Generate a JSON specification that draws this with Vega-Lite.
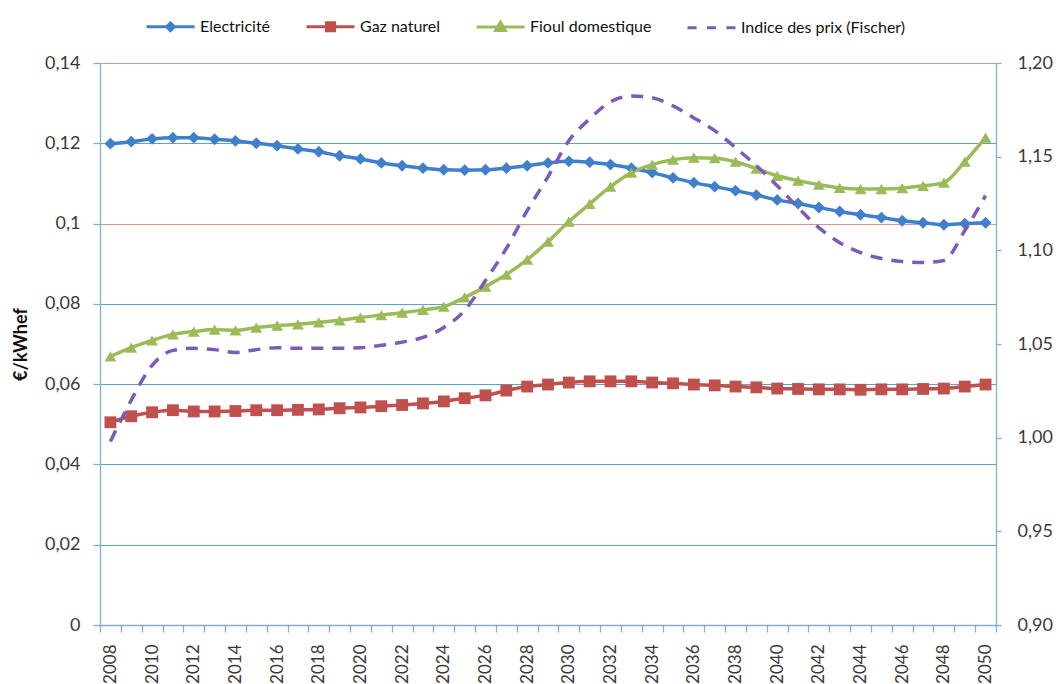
{
  "$schema": "https://vega.github.io/schema/vega-lite/v6.json",
  "width": 896,
  "height": 562,
  "autosize": {"type": "none"},
  "padding": {"left": 100, "top": 63, "right": 60, "bottom": 59},
  "background": "white",
  "config": {
    "view": {"stroke": null},
    "font": "Lato",
    "axis": {
      "labelFont": "Lato",
      "labelFontSize": 18,
      "labelColor": "#3a3a3a",
      "domainColor": "#7FB0D2",
      "tickColor": "#7FB0D2",
      "domainWidth": 1.3,
      "tickWidth": 1.3
    }
  },
  "data": {
    "values": [
      {"year": 2008, "series": "Electricité", "value": 0.1199},
      {"year": 2009, "series": "Electricité", "value": 0.1204},
      {"year": 2010, "series": "Electricité", "value": 0.1211},
      {"year": 2011, "series": "Electricité", "value": 0.1214},
      {"year": 2012, "series": "Electricité", "value": 0.1214},
      {"year": 2013, "series": "Electricité", "value": 0.1210},
      {"year": 2014, "series": "Electricité", "value": 0.1206},
      {"year": 2015, "series": "Electricité", "value": 0.1200},
      {"year": 2016, "series": "Electricité", "value": 0.1194},
      {"year": 2017, "series": "Electricité", "value": 0.1186},
      {"year": 2018, "series": "Electricité", "value": 0.1179},
      {"year": 2019, "series": "Electricité", "value": 0.1169},
      {"year": 2020, "series": "Electricité", "value": 0.1161},
      {"year": 2021, "series": "Electricité", "value": 0.1151},
      {"year": 2022, "series": "Electricité", "value": 0.1144},
      {"year": 2023, "series": "Electricité", "value": 0.1138},
      {"year": 2024, "series": "Electricité", "value": 0.1134},
      {"year": 2025, "series": "Electricité", "value": 0.1133},
      {"year": 2026, "series": "Electricité", "value": 0.1134},
      {"year": 2027, "series": "Electricité", "value": 0.1138},
      {"year": 2028, "series": "Electricité", "value": 0.1144},
      {"year": 2029, "series": "Electricité", "value": 0.1151},
      {"year": 2030, "series": "Electricité", "value": 0.1155},
      {"year": 2031, "series": "Electricité", "value": 0.1153},
      {"year": 2032, "series": "Electricité", "value": 0.1147},
      {"year": 2033, "series": "Electricité", "value": 0.1138},
      {"year": 2034, "series": "Electricité", "value": 0.1127},
      {"year": 2035, "series": "Electricité", "value": 0.1114},
      {"year": 2036, "series": "Electricité", "value": 0.1102},
      {"year": 2037, "series": "Electricité", "value": 0.1092},
      {"year": 2038, "series": "Electricité", "value": 0.1082},
      {"year": 2039, "series": "Electricité", "value": 0.1071},
      {"year": 2040, "series": "Electricité", "value": 0.1059},
      {"year": 2041, "series": "Electricité", "value": 0.1050},
      {"year": 2042, "series": "Electricité", "value": 0.1040},
      {"year": 2043, "series": "Electricité", "value": 0.1030},
      {"year": 2044, "series": "Electricité", "value": 0.1022},
      {"year": 2045, "series": "Electricité", "value": 0.1015},
      {"year": 2046, "series": "Electricité", "value": 0.1007},
      {"year": 2047, "series": "Electricité", "value": 0.1002},
      {"year": 2048, "series": "Electricité", "value": 0.0997},
      {"year": 2049, "series": "Electricité", "value": 0.1000},
      {"year": 2050, "series": "Electricité", "value": 0.1002},
      {"year": 2008, "series": "Gaz naturel", "value": 0.0505},
      {"year": 2009, "series": "Gaz naturel", "value": 0.0520},
      {"year": 2010, "series": "Gaz naturel", "value": 0.0530},
      {"year": 2011, "series": "Gaz naturel", "value": 0.0535},
      {"year": 2012, "series": "Gaz naturel", "value": 0.0532},
      {"year": 2013, "series": "Gaz naturel", "value": 0.0532},
      {"year": 2014, "series": "Gaz naturel", "value": 0.0533},
      {"year": 2015, "series": "Gaz naturel", "value": 0.0535},
      {"year": 2016, "series": "Gaz naturel", "value": 0.0535},
      {"year": 2017, "series": "Gaz naturel", "value": 0.0536},
      {"year": 2018, "series": "Gaz naturel", "value": 0.0537},
      {"year": 2019, "series": "Gaz naturel", "value": 0.0540},
      {"year": 2020, "series": "Gaz naturel", "value": 0.0542},
      {"year": 2021, "series": "Gaz naturel", "value": 0.0545},
      {"year": 2022, "series": "Gaz naturel", "value": 0.0548},
      {"year": 2023, "series": "Gaz naturel", "value": 0.0552},
      {"year": 2024, "series": "Gaz naturel", "value": 0.0557},
      {"year": 2025, "series": "Gaz naturel", "value": 0.0565},
      {"year": 2026, "series": "Gaz naturel", "value": 0.0572},
      {"year": 2027, "series": "Gaz naturel", "value": 0.0584},
      {"year": 2028, "series": "Gaz naturel", "value": 0.0594},
      {"year": 2029, "series": "Gaz naturel", "value": 0.0599},
      {"year": 2030, "series": "Gaz naturel", "value": 0.0604},
      {"year": 2031, "series": "Gaz naturel", "value": 0.0607},
      {"year": 2032, "series": "Gaz naturel", "value": 0.0607},
      {"year": 2033, "series": "Gaz naturel", "value": 0.0607},
      {"year": 2034, "series": "Gaz naturel", "value": 0.0604},
      {"year": 2035, "series": "Gaz naturel", "value": 0.0602},
      {"year": 2036, "series": "Gaz naturel", "value": 0.0599},
      {"year": 2037, "series": "Gaz naturel", "value": 0.0597},
      {"year": 2038, "series": "Gaz naturel", "value": 0.0594},
      {"year": 2039, "series": "Gaz naturel", "value": 0.0592},
      {"year": 2040, "series": "Gaz naturel", "value": 0.0589},
      {"year": 2041, "series": "Gaz naturel", "value": 0.0588},
      {"year": 2042, "series": "Gaz naturel", "value": 0.0587},
      {"year": 2043, "series": "Gaz naturel", "value": 0.0587},
      {"year": 2044, "series": "Gaz naturel", "value": 0.0586},
      {"year": 2045, "series": "Gaz naturel", "value": 0.0587},
      {"year": 2046, "series": "Gaz naturel", "value": 0.0587},
      {"year": 2047, "series": "Gaz naturel", "value": 0.0588},
      {"year": 2048, "series": "Gaz naturel", "value": 0.0589},
      {"year": 2049, "series": "Gaz naturel", "value": 0.0594},
      {"year": 2050, "series": "Gaz naturel", "value": 0.0599},
      {"year": 2008, "series": "Fioul domestique", "value": 0.0669},
      {"year": 2009, "series": "Fioul domestique", "value": 0.0691},
      {"year": 2010, "series": "Fioul domestique", "value": 0.0709},
      {"year": 2011, "series": "Fioul domestique", "value": 0.0724},
      {"year": 2012, "series": "Fioul domestique", "value": 0.0731},
      {"year": 2013, "series": "Fioul domestique", "value": 0.0736},
      {"year": 2014, "series": "Fioul domestique", "value": 0.0734},
      {"year": 2015, "series": "Fioul domestique", "value": 0.0741},
      {"year": 2016, "series": "Fioul domestique", "value": 0.0746},
      {"year": 2017, "series": "Fioul domestique", "value": 0.0749},
      {"year": 2018, "series": "Fioul domestique", "value": 0.0754},
      {"year": 2019, "series": "Fioul domestique", "value": 0.0759},
      {"year": 2020, "series": "Fioul domestique", "value": 0.0766},
      {"year": 2021, "series": "Fioul domestique", "value": 0.0772},
      {"year": 2022, "series": "Fioul domestique", "value": 0.0778},
      {"year": 2023, "series": "Fioul domestique", "value": 0.0785},
      {"year": 2024, "series": "Fioul domestique", "value": 0.0793},
      {"year": 2025, "series": "Fioul domestique", "value": 0.0816},
      {"year": 2026, "series": "Fioul domestique", "value": 0.0843},
      {"year": 2027, "series": "Fioul domestique", "value": 0.0873},
      {"year": 2028, "series": "Fioul domestique", "value": 0.0910},
      {"year": 2029, "series": "Fioul domestique", "value": 0.0955},
      {"year": 2030, "series": "Fioul domestique", "value": 0.1005},
      {"year": 2031, "series": "Fioul domestique", "value": 0.1049},
      {"year": 2032, "series": "Fioul domestique", "value": 0.1092},
      {"year": 2033, "series": "Fioul domestique", "value": 0.1127},
      {"year": 2034, "series": "Fioul domestique", "value": 0.1147},
      {"year": 2035, "series": "Fioul domestique", "value": 0.1159},
      {"year": 2036, "series": "Fioul domestique", "value": 0.1164},
      {"year": 2037, "series": "Fioul domestique", "value": 0.1163},
      {"year": 2038, "series": "Fioul domestique", "value": 0.1154},
      {"year": 2039, "series": "Fioul domestique", "value": 0.1137},
      {"year": 2040, "series": "Fioul domestique", "value": 0.1119},
      {"year": 2041, "series": "Fioul domestique", "value": 0.1107},
      {"year": 2042, "series": "Fioul domestique", "value": 0.1097},
      {"year": 2043, "series": "Fioul domestique", "value": 0.1089},
      {"year": 2044, "series": "Fioul domestique", "value": 0.1086},
      {"year": 2045, "series": "Fioul domestique", "value": 0.1086},
      {"year": 2046, "series": "Fioul domestique", "value": 0.1088},
      {"year": 2047, "series": "Fioul domestique", "value": 0.1094},
      {"year": 2048, "series": "Fioul domestique", "value": 0.1102},
      {"year": 2049, "series": "Fioul domestique", "value": 0.1154},
      {"year": 2050, "series": "Fioul domestique", "value": 0.1214},
      {"year": 2008, "series": "Indice des prix (Fischer)", "value": 0.998},
      {"year": 2009, "series": "Indice des prix (Fischer)", "value": 1.020},
      {"year": 2010, "series": "Indice des prix (Fischer)", "value": 1.0386},
      {"year": 2011, "series": "Indice des prix (Fischer)", "value": 1.0466},
      {"year": 2012, "series": "Indice des prix (Fischer)", "value": 1.0477},
      {"year": 2013, "series": "Indice des prix (Fischer)", "value": 1.0470},
      {"year": 2014, "series": "Indice des prix (Fischer)", "value": 1.0455},
      {"year": 2015, "series": "Indice des prix (Fischer)", "value": 1.0470},
      {"year": 2016, "series": "Indice des prix (Fischer)", "value": 1.0480},
      {"year": 2017, "series": "Indice des prix (Fischer)", "value": 1.0477},
      {"year": 2018, "series": "Indice des prix (Fischer)", "value": 1.0477},
      {"year": 2019, "series": "Indice des prix (Fischer)", "value": 1.0477},
      {"year": 2020, "series": "Indice des prix (Fischer)", "value": 1.0480},
      {"year": 2021, "series": "Indice des prix (Fischer)", "value": 1.0493},
      {"year": 2022, "series": "Indice des prix (Fischer)", "value": 1.0510},
      {"year": 2023, "series": "Indice des prix (Fischer)", "value": 1.0535},
      {"year": 2024, "series": "Indice des prix (Fischer)", "value": 1.0588},
      {"year": 2025, "series": "Indice des prix (Fischer)", "value": 1.0679},
      {"year": 2026, "series": "Indice des prix (Fischer)", "value": 1.0839},
      {"year": 2027, "series": "Indice des prix (Fischer)", "value": 1.1010},
      {"year": 2028, "series": "Indice des prix (Fischer)", "value": 1.1212},
      {"year": 2029, "series": "Indice des prix (Fischer)", "value": 1.1393},
      {"year": 2030, "series": "Indice des prix (Fischer)", "value": 1.1585},
      {"year": 2031, "series": "Indice des prix (Fischer)", "value": 1.1702},
      {"year": 2032, "series": "Indice des prix (Fischer)", "value": 1.1793},
      {"year": 2033, "series": "Indice des prix (Fischer)", "value": 1.1824},
      {"year": 2034, "series": "Indice des prix (Fischer)", "value": 1.1814},
      {"year": 2035, "series": "Indice des prix (Fischer)", "value": 1.1771},
      {"year": 2036, "series": "Indice des prix (Fischer)", "value": 1.1707},
      {"year": 2037, "series": "Indice des prix (Fischer)", "value": 1.1639},
      {"year": 2038, "series": "Indice des prix (Fischer)", "value": 1.1548},
      {"year": 2039, "series": "Indice des prix (Fischer)", "value": 1.1452},
      {"year": 2040, "series": "Indice des prix (Fischer)", "value": 1.1345},
      {"year": 2041, "series": "Indice des prix (Fischer)", "value": 1.1228},
      {"year": 2042, "series": "Indice des prix (Fischer)", "value": 1.1121},
      {"year": 2043, "series": "Indice des prix (Fischer)", "value": 1.1041},
      {"year": 2044, "series": "Indice des prix (Fischer)", "value": 1.0988},
      {"year": 2045, "series": "Indice des prix (Fischer)", "value": 1.0956},
      {"year": 2046, "series": "Indice des prix (Fischer)", "value": 1.0940},
      {"year": 2047, "series": "Indice des prix (Fischer)", "value": 1.0935},
      {"year": 2048, "series": "Indice des prix (Fischer)", "value": 1.0946},
      {"year": 2049, "series": "Indice des prix (Fischer)", "value": 1.1105},
      {"year": 2050, "series": "Indice des prix (Fischer)", "value": 1.1292}
    ]
  },
  "encoding": {
    "x": {
      "field": "year",
      "type": "quantitative",
      "scale": {"domain": [2007.5, 2050.5], "nice": false, "zero": false},
      "axis": {
        "title": null,
        "grid": false,
        "values": [2007.5, 2008.5, 2009.5, 2010.5, 2011.5, 2012.5, 2013.5, 2014.5, 2015.5, 2016.5, 2017.5, 2018.5, 2019.5, 2020.5, 2021.5, 2022.5, 2023.5, 2024.5, 2025.5, 2026.5, 2027.5, 2028.5, 2029.5, 2030.5, 2031.5, 2032.5, 2033.5, 2034.5, 2035.5, 2036.5, 2037.5, 2038.5, 2039.5, 2040.5, 2041.5, 2042.5, 2043.5, 2044.5, 2045.5, 2046.5, 2047.5, 2048.5, 2049.5, 2050.5],
        "labelExpr": "((datum.value + 0.5) % 2 === 0 && datum.value < 2050) ? format(datum.value + 0.5, 'd') : ''",
        "labelOffset": 10.42,
        "labelAngle": 270,
        "labelAlign": "right",
        "labelBaseline": "middle",
        "labelFontSize": 17,
        "tickSize": 7,
        "labelPadding": 12,
        "labelOverlap": false,
        "labelBound": false,
        "labelFlush": false
      }
    },
    "color": {
      "field": "series",
      "type": "nominal",
      "scale": {
        "domain": ["Electricité", "Gaz naturel", "Fioul domestique", "Indice des prix (Fischer)"],
        "range": ["#3F7FCB", "#C0504D", "#9BBB59", "#7A5BB5"]
      },
      "legend": {
        "orient": "none",
        "legendX": 45,
        "legendY": -62,
        "direction": "horizontal",
        "title": null,
        "padding": 0,
        "labelFont": "Lato",
        "labelFontSize": 16,
        "labelColor": "#111111",
        "labelOffset": 4,
        "labelLimit": 400,
        "columnPadding": 29,
        "symbolSize": 2304,
        "symbolStrokeWidth": 3,
        "encode": {
          "symbols": {
            "update": {
              "shape": {"signal": "datum.value === 'Electricité' ? 'M-1,0L1,0M0,-0.16L0.16,0L0,0.16L-0.16,0Z' : datum.value === 'Gaz naturel' ? 'M-1,0L1,0M-0.17,-0.17L0.17,-0.17L0.17,0.17L-0.17,0.17Z' : datum.value === 'Fioul domestique' ? 'M-1,0L1,0M0,-0.2L0.2,0.14L-0.2,0.14Z' : 'M-1,0L-0.62,0M-0.19,0L0.19,0M0.62,0L1,0'"},
              "fill": {"scale": "color", "field": "value"},
              "stroke": {"scale": "color", "field": "value"},
              "strokeWidth": {"value": 3},
              "size": {"value": 2304},
              "opacity": {"value": 1}
            }
          }
        }
      }
    }
  },
  "layer": [
    {
      "transform": [{"filter": "datum.series !== 'Indice des prix (Fischer)'"}],
      "encoding": {
        "y": {
          "field": "value",
          "type": "quantitative",
          "scale": {"domain": [0, 0.14], "nice": false, "zero": true},
          "axis": {
            "orient": "left",
            "values": [0, 0.02, 0.04, 0.06, 0.08, 0.1, 0.12, 0.14],
            "labelExpr": "replace(format(datum.value, '.2~f'), '.', ',')",
            "tickSize": 7,
            "labelPadding": 13,
            "grid": true,
            "gridColor": {"condition": {"test": "abs(datum.value - 0.14) < 0.001 || abs(datum.value - 0.1) < 0.001", "value": "#D4998F"}, "value": "#5DA3C9"},
            "gridWidth": 1.2,
            "title": "€/kWhef",
            "titleFont": "Lato",
            "titleFontSize": 18,
            "titleFontWeight": "bold",
            "titleColor": "#111111",
            "titleAngle": 270,
            "titleX": -79,
            "titleY": 281,
            "titleAlign": "center",
            "titleBaseline": "middle"
          }
        }
      },
      "layer": [
        {"mark": {"type": "line", "strokeWidth": 3.5, "interpolate": "monotone"}},
        {
          "mark": {"type": "point", "filled": true, "opacity": 1, "size": 140},
          "encoding": {
            "shape": {
              "field": "series",
              "type": "nominal",
              "scale": {"domain": ["Electricité", "Gaz naturel", "Fioul domestique"], "range": ["diamond", "square", "triangle-up"]},
              "legend": null
            }
          }
        }
      ]
    },
    {
      "transform": [{"filter": "datum.series === 'Indice des prix (Fischer)'"}],
      "mark": {"type": "line", "strokeWidth": 3.5, "strokeDash": [12, 9], "interpolate": "monotone"},
      "encoding": {
        "y": {
          "field": "value",
          "type": "quantitative",
          "scale": {"domain": [0.9, 1.2], "nice": false, "zero": false},
          "axis": {
            "orient": "right",
            "values": [0.9, 0.95, 1, 1.05, 1.1, 1.15, 1.2],
            "labelExpr": "replace(format(datum.value, '.2f'), '.', ',')",
            "tickSize": 5,
            "labelPadding": 16,
            "grid": false,
            "title": null
          }
        }
      }
    }
  ],
  "resolve": {"scale": {"y": "independent"}}
}
